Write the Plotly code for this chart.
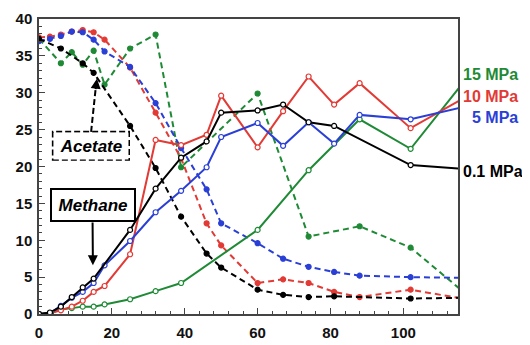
import plotly.graph_objects as go

# ---------------- data ----------------
# Methane (solid lines, open markers)
ch4_01_t = [0, 3, 6, 9, 12, 15, 25, 32, 39, 46, 50, 60, 67, 74, 81, 102, 116]
ch4_01_v = [0, 0.2, 1.0, 2.3, 3.6, 4.8, 11.4, 17.0, 21.2, 23.4, 27.3, 27.6, 28.4, 26.0, 25.5, 20.2, 19.7]

ch4_5_t = [0, 3, 6, 9, 12, 15, 18, 25, 32, 39, 46, 50, 60, 67, 74, 81, 88, 102, 116]
ch4_5_v = [0, 0.1, 1.1, 2.2, 3.0, 4.2, 6.6, 9.9, 13.8, 16.7, 19.9, 24.0, 25.9, 22.8, 26.0, 23.1, 27.0, 26.4, 28.0]

ch4_10_t = [0, 3, 6, 9, 12, 15, 18, 25, 32, 39, 46, 50, 60, 67, 74, 81, 88, 102, 116]
ch4_10_v = [0, 0.1, 0.5, 1.0, 1.8, 3.0, 3.8, 8.1, 23.6, 22.9, 24.3, 29.6, 22.6, 27.5, 32.2, 28.4, 31.3, 25.2, 29.1]

ch4_15_t = [0, 3, 6, 9, 12, 15, 18, 25, 32, 39, 60, 74, 88, 102, 116]
ch4_15_v = [0, 0.1, 0.6, 0.8, 1.0, 1.0, 1.3, 2.0, 3.1, 4.2, 11.4, 19.5, 26.4, 22.4, 31.1]

# Acetate (dashed lines, filled markers)
ac_01_t = [0, 6, 12, 15, 25, 32, 39, 46, 50, 60, 67, 74, 81, 102, 116]
ac_01_v = [37.3, 36.0, 34.0, 32.7, 25.5, 19.8, 13.2, 8.2, 6.3, 3.3, 2.6, 2.3, 2.4, 2.1, 2.2]

ac_5_t = [0, 3, 6, 9, 12, 15, 18, 25, 32, 39, 46, 50, 60, 67, 74, 81, 88, 102, 116]
ac_5_v = [37.0, 37.3, 37.7, 38.3, 38.2, 37.2, 35.6, 33.5, 28.6, 22.5, 16.9, 12.3, 9.6, 7.5, 6.4, 5.7, 5.2, 5.0, 4.9]

ac_10_t = [0, 3, 6, 9, 12, 15, 18, 25, 32, 39, 46, 50, 60, 67, 74, 81, 88, 102, 116]
ac_10_v = [37.5, 37.6, 37.9, 38.3, 38.5, 38.2, 37.2, 33.4, 27.3, 21.1, 12.3, 9.3, 4.2, 4.7, 4.2, 3.0, 2.3, 3.3, 2.1]

ac_15_t = [0, 6, 9, 12, 15, 18, 25, 32, 39, 60, 74, 88, 102, 116]
ac_15_v = [37.3, 34.0, 35.5, 33.8, 35.7, 31.1, 36.0, 37.9, 19.9, 29.9, 10.5, 11.9, 9.0, 3.2]

x_ticks = [0, 20, 40, 60, 80, 100]
y_ticks = [0, 5, 10, 15, 20, 25, 30, 35, 40]
pressure_labels = ["15 MPa", "10 MPa", "5 MPa", "0.1 MPa"]

# ---------------- styles ----------------
C_BLACK = "#000000"
C_BLUE = "#2a3fd6"
C_RED = "#e23a35"
C_GREEN = "#1f8a36"
FONT = "Arial, Liberation Sans, sans-serif"

fig = go.Figure()

def add_series(t, v, color, methane):
    fig.add_trace(go.Scatter(
        x=t, y=v, mode="lines+markers",
        line=dict(color=color, width=2, dash=None if methane else "6px,4px"),
        marker=dict(size=5, color="white" if methane else color,
                    line=dict(color=color, width=1.2), symbol="circle"),
        showlegend=False, hoverinfo="skip",
    ))

# acetate first
add_series(ac_15_t, ac_15_v, C_GREEN, False)
add_series(ac_10_t, ac_10_v, C_RED, False)
add_series(ac_5_t, ac_5_v, C_BLUE, False)
add_series(ac_01_t, ac_01_v, C_BLACK, False)
# methane
add_series(ch4_15_t, ch4_15_v, C_GREEN, True)
add_series(ch4_10_t, ch4_10_v, C_RED, True)
add_series(ch4_5_t, ch4_5_v, C_BLUE, True)
add_series(ch4_01_t, ch4_01_v, C_BLACK, True)

axis_common = dict(
    showgrid=False, zeroline=False, showline=True, linecolor="#444", linewidth=1.5,
    mirror=True, ticks="inside", ticklen=6, tickwidth=1, tickcolor="#444",
    tickfont=dict(family=FONT, size=15, color="#111", weight="bold"),
    automargin=False,
)
fig.update_xaxes(range=[0, 115], tickvals=x_ticks, ticklabelstandoff=4,
                 minor=dict(ticks="inside", dtick=4, tick0=0, ticklen=3, tickcolor="#444"),
                 **axis_common)
fig.update_yaxes(range=[0, 40], tickvals=y_ticks, ticklabelstandoff=2,
                 minor=dict(ticks="inside", dtick=1, tick0=0, ticklen=3, tickcolor="#444"),
                 **axis_common)

# Acetate box (dashed) and arrow
fig.add_annotation(x=14.3, y=22.8, xref="x", yref="y", text="<b><i>Acetate</i></b>",
                   showarrow=False, font=dict(family=FONT, size=17, color="#000"),
                   bgcolor="white", width=72, height=24)
fig.add_shape(type="rect", x0=3.8, x1=24.7, y0=20.9, y1=24.7, xref="x", yref="y",
              line=dict(color="#000", width=2, dash="6px,3px"), fillcolor="rgba(0,0,0,0)",
              layer="above")
fig.add_shape(type="line", x0=14.3, y0=24.7, x1=15.6, y1=30.8, xref="x", yref="y",
              line=dict(color="#000", width=2, dash="6px,3px"), layer="above")
fig.add_annotation(x=15.9, y=31.9, ax=15.5, ay=30.3, xref="x", yref="y",
                   axref="x", ayref="y", text="", showarrow=True,
                   arrowhead=2, arrowsize=1, arrowwidth=2, arrowcolor="#000")

# Methane box (solid) and arrow
fig.add_annotation(x=14.8, y=6.6, ax=14.7, ay=12.6, xref="x", yref="y",
                   axref="x", ayref="y", text="", showarrow=True,
                   arrowhead=2, arrowsize=1, arrowwidth=2, arrowcolor="#000")
fig.add_annotation(x=14.85, y=14.8, xref="x", yref="y", text="<b><i>Methane</i></b>",
                   showarrow=False, font=dict(family=FONT, size=17, color="#000"),
                   bgcolor="white", bordercolor="#000", borderwidth=2, borderpad=5,
                   width=72, height=20)

# pressure labels
label_colors = [C_GREEN, C_RED, C_BLUE, C_BLACK]
label_y = [32.5, 29.5, 26.6, 19.3]
for txt, col, yy in zip(pressure_labels, label_colors, label_y):
    if txt == "0.1 MPa":
        fig.add_annotation(x=1.006, y=yy, xref="paper", yref="y", text="<b>" + txt + "</b>",
                           showarrow=False, xanchor="left",
                           font=dict(family=FONT, size=16, color=col))
    else:
        fig.add_annotation(x=1.148, y=yy, xref="paper", yref="y", text="<b>" + txt + "</b>",
                           showarrow=False, xanchor="right",
                           font=dict(family=FONT, size=16, color=col))

# page body adds an 8px offset; size the figure so the plot area lands where it should
fig.update_layout(
    width=522, height=337,
    margin=dict(l=31, r=72, t=11, b=31),
    paper_bgcolor="white", plot_bgcolor="white",
    showlegend=False,
)

fig.write_html("out.html")
